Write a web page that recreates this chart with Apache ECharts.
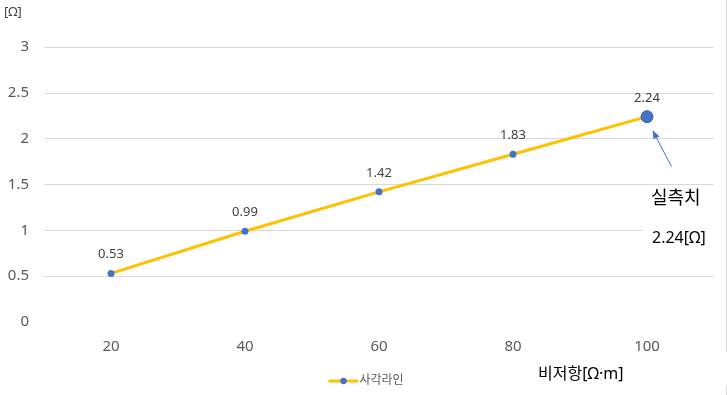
<!DOCTYPE html>
<html><head><meta charset="utf-8">
<script src="https://cdn.jsdelivr.net/npm/echarts@6/dist/echarts.min.js"></script>
<style>html,body{margin:0;padding:0;background:#fff}#c{width:727px;height:395px}</style>
</head><body><div id="c"></div>
<script>
const categories = ['20', '40', '60', '80', '100'];
const values = [0.53, 0.99, 1.42, 1.83, 2.24];
const seriesName = '사각라인';
const yTicks = [0, 0.5, 1, 1.5, 2, 2.5, 3];

const FONT = "'Noto Sans', 'Noto Sans CJK KR', sans-serif";
const chart = echarts.init(document.getElementById('c'));
const data = values.map((v, i) => i === values.length - 1
  ? { value: v, symbolSize: 12, label: { distance: 5 }, itemStyle: { color: '#4472C4', borderColor: '#3a62a8', borderWidth: 1 } }
  : v);
chart.setOption({
  animation: false,
  grid: { left: 44, right: 13, top: 47, bottom: 73 },
  xAxis: {
    type: 'category', data: categories, boundaryGap: true,
    axisLine: { show: false }, axisTick: { show: false },
    axisLabel: { color: '#595959', fontSize: 15, fontFamily: FONT, margin: 17 }
  },
  yAxis: {
    type: 'value', min: yTicks[0], max: yTicks[yTicks.length - 1], interval: 0.5,
    axisLine: { show: false }, axisTick: { show: false },
    axisLabel: { color: '#595959', fontSize: 15, fontFamily: FONT, margin: 15 },
    splitLine: { lineStyle: { color: yTicks.map((t, i) => i === 0 ? 'rgba(0,0,0,0)' : '#d9d9d9'), width: 1 } }
  },
  legend: {
    data: [seriesName], left: 322, top: 370, itemWidth: 30, itemHeight: 8, itemGap: 2,
    lineStyle: { width: 3 },
    textStyle: { color: '#595959', fontSize: 12, fontFamily: FONT, padding: [0, 0, 0, -4] }
  },
  series: [{
    name: seriesName, type: 'line', data: data,
    symbol: 'circle', symbolSize: 7,
    lineStyle: { color: '#FFC000', width: 3 },
    itemStyle: { color: '#4472C4' },
    label: { show: true, position: 'top', distance: 9, color: '#404040', fontSize: 13, fontFamily: FONT }
  }],
  graphic: [
    { type: 'text', left: 4, top: 6, style: { text: '[Ω]', fill: '#404040', font: '13px ' + FONT } },
    { type: 'rect', shape: { x: 643, y: 190, width: 76, height: 70 }, style: { fill: '#fff' }, z: 10 },
    { type: 'text', left: 651, top: 190, style: { text: '실측치', fill: '#000', font: '18px ' + FONT }, z: 11 },
    { type: 'text', left: 652, top: 230, style: { text: '2.24[Ω]', fill: '#000', font: '16px ' + FONT }, z: 11 },
    { type: 'line', shape: { x1: 671.5, y1: 166.5, x2: 656, y2: 137 }, style: { stroke: '#4472C4', lineWidth: 1 }, z: 11 },
    { type: 'polygon', shape: { points: [[652.5, 130], [659.5, 136.5], [653.5, 139]] }, style: { fill: '#4472C4' }, z: 11 },
    { type: 'text', left: 538, top: 366, style: { text: '비저항[Ω·m]', fill: '#000', font: '16px ' + FONT } },
    { type: 'line', shape: { x1: 726.5, y1: 0, x2: 726.5, y2: 352 }, style: { stroke: '#d9d9d9', lineWidth: 1 } },
    { type: 'line', shape: { x1: 726.5, y1: 385, x2: 726.5, y2: 395 }, style: { stroke: '#d9d9d9', lineWidth: 1 } }
  ]
});
</script></body></html>
